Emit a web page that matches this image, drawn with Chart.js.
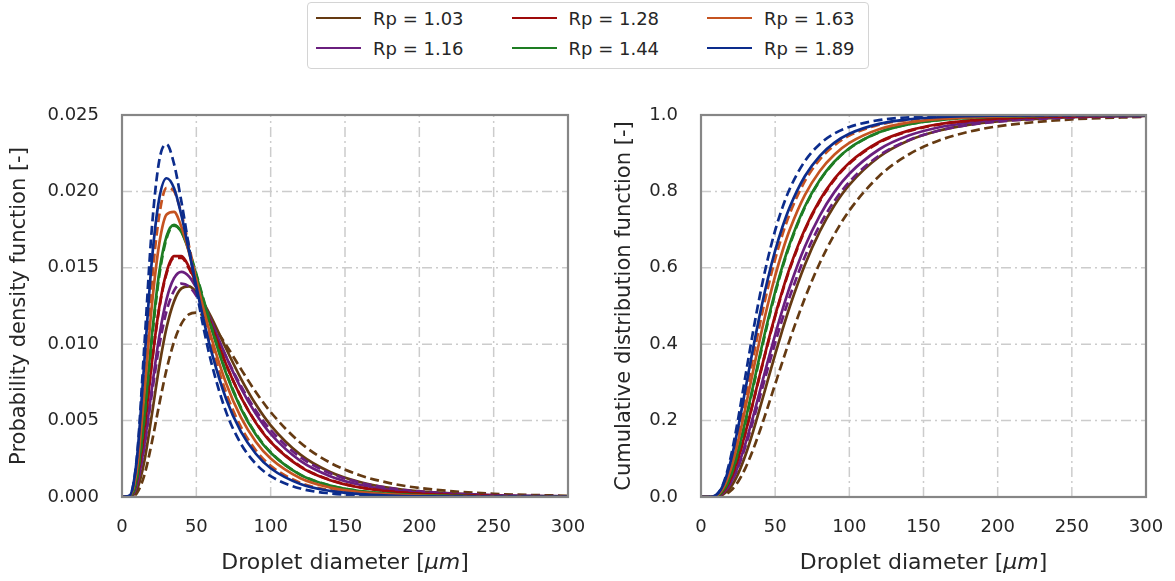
<!DOCTYPE html>
<html>
<head>
<meta charset="utf-8">
<script src="https://cdn.jsdelivr.net/npm/chart.js@4.4.0/dist/chart.umd.min.js"></script>
<style>
  html, body { margin: 0; padding: 0; background: #ffffff; }
  #wrap { position: relative; width: 1175px; height: 581px; overflow: hidden; font-family: "DejaVu Sans", sans-serif; }
  .panel { position: absolute; top: 0; height: 581px; }
  #pdfBox { left: 0; width: 590px; }
  #cdfBox { left: 590px; width: 585px; }
  #legend {
    position: absolute; left: 307px; top: 2px; width: 562px; height: 67px;
    box-sizing: border-box; border: 1px solid #d4d4d4; border-radius: 4px; background: #fff;
    display: grid; grid-template-columns: 195.5px 195.5px 160px; grid-template-rows: 30px 30px;
    grid-auto-flow: column; padding: 0 0 0 8px;
  }
  .item { display: flex; align-items: center; font-size: 18px; color: #262626; white-space: nowrap; }
  .swatch { width: 45px; height: 0; border-top: 2.7px solid; margin-right: 12px; }
</style>
</head>
<body>
<div id="wrap">
  <div class="panel" id="pdfBox"><canvas id="pdfChart" width="590" height="581"></canvas></div>
  <div class="panel" id="cdfBox"><canvas id="cdfChart" width="585" height="581"></canvas></div>
  <div id="legend"></div>
</div>
<script>
// Droplet diameter grid (µm) shared by every curve
const diameters = [0, 5, 10, 15, 20, 25, 30, 35, 40, 45, 50, 55, 60, 70, 80, 90, 100, 120, 140, 160, 180, 200, 250, 300];

const rpLabels = ['Rp = 1.03', 'Rp = 1.16', 'Rp = 1.28', 'Rp = 1.44', 'Rp = 1.63', 'Rp = 1.89'];
const rpColors = ['#653a12', '#6a1f7e', '#9e0a0a', '#1e7d23', '#c55320', '#0c2c8c'];

// Probability density, solid curves
const pdfSolid103 = [0, 0.000009, 0.000463, 0.002321, 0.005331, 0.008504, 0.01109, 0.01280, 0.01365, 0.01378, 0.01341, 0.01269, 0.011768, 0.009718, 0.007753, 0.006065, 0.004691, 0.002772, 0.001638, 0.000978, 0.000592, 0.000365, 0.000116, 0.000041];
const pdfSolid116 = [0, 0.00002, 0.00078, 0.003376, 0.007043, 0.01048, 0.01295, 0.01432, 0.01473, 0.01444, 0.01368, 0.01266, 0.01151, 0.009186, 0.007129, 0.005448, 0.004133, 0.002366, 0.001364, 0.000798, 0.000476, 0.000289, 0.00009, 0.000031];
const pdfSolid128 = [0, 0.000032, 0.001103, 0.004419, 0.008709, 0.01239, 0.01474, 0.01577, 0.01577, 0.01506, 0.01395, 0.01263, 0.01127, 0.008686, 0.006538, 0.004862, 0.003598, 0.001973, 0.001096, 0.000621, 0.00036, 0.000213, 0.000063, 0.000021];
const pdfSolid144 = [0, 0.000031, 0.001278, 0.005314, 0.01047, 0.01467, 0.01707, 0.01781, 0.01733, 0.0161, 0.0145, 0.01277, 0.01108, 0.008096, 0.005788, 0.004098, 0.002893, 0.001452, 0.000744, 0.00039, 0.00021, 0.000117, 0.00003, 0.000009];
const pdfSolid163 = [0, 0.000056, 0.001826, 0.006796, 0.01245, 0.01654, 0.01849, 0.01866, 0.01766, 0.01603, 0.01415, 0.01224, 0.01046, 0.007441, 0.005204, 0.003617, 0.002513, 0.001229, 0.000617, 0.000319, 0.00017, 0.000093, 0.000023, 0.000007];
const pdfSolid189 = [0, 0.000078, 0.002488, 0.008815, 0.01538, 0.0195, 0.02086, 0.02021, 0.01842, 0.01613, 0.01377, 0.01154, 0.009563, 0.006432, 0.004272, 0.002831, 0.001882, 0.000849, 0.000396, 0.000192, 0.000096, 0.00005, 0.000011, 0.000003];

// Probability density, dashed curves
const pdfDashed103 = [0, 0.000004, 0.000254, 0.001417, 0.003536, 0.00604, 0.008356, 0.01015, 0.01134, 0.01195, 0.01207, 0.01184, 0.01135, 0.009951, 0.008373, 0.006872, 0.005557, 0.00355, 0.002246, 0.001424, 0.000911, 0.000589, 0.000209, 0.00008];
const pdfDashed116 = [0, 0.000024, 0.000799, 0.003277, 0.00669, 0.009868, 0.01218, 0.0135, 0.01397, 0.01379, 0.01317, 0.0123, 0.01128, 0.009183, 0.007268, 0.005665, 0.004382, 0.002604, 0.001556, 0.000942, 0.00058, 0.000363, 0.000121, 0.000044];
const pdfDashed128 = [0, 0.000034, 0.001124, 0.004441, 0.008695, 0.01232, 0.01464, 0.01565, 0.01565, 0.01496, 0.01387, 0.01258, 0.01123, 0.008683, 0.006556, 0.004891, 0.003631, 0.002004, 0.00112, 0.000639, 0.000372, 0.000221, 0.000066, 0.000022];
const pdfDashed144 = [0, 0.000028, 0.001189, 0.00509, 0.0102, 0.01444, 0.01693, 0.01776, 0.01735, 0.01617, 0.01459, 0.01288, 0.01118, 0.008185, 0.005855, 0.004145, 0.002925, 0.001465, 0.000749, 0.000392, 0.000211, 0.000116, 0.000029, 0.000008];
const pdfDashed163 = [0, 0.000052, 0.001971, 0.007606, 0.01399, 0.0184, 0.02023, 0.02001, 0.01854, 0.01646, 0.0142, 0.01202, 0.01004, 0.006839, 0.004586, 0.003061, 0.002046, 0.00093, 0.000436, 0.000212, 0.000106, 0.000055, 0.000012, 0.000003];
const pdfDashed189 = [0, 0.000063, 0.002587, 0.009859, 0.01748, 0.02199, 0.02308, 0.0218, 0.0193, 0.01639, 0.01355, 0.011, 0.00883, 0.005574, 0.003481, 0.002173, 0.001364, 0.000552, 0.000233, 0.000103, 0.000047, 0.000023, 0.000004, 0.000001];

// Cumulative distribution, solid curves
const cdfSolid103 = [0, 0.00001, 0.00076, 0.0071, 0.0259, 0.0607, 0.1099, 0.17, 0.2365, 0.3054, 0.3735, 0.4388, 0.5, 0.6075, 0.6947, 0.7636, 0.8171, 0.8901, 0.9332, 0.9587, 0.9741, 0.9834, 0.9942, 0.9978];
const cdfSolid116 = [0, 0.00001, 0.00136, 0.011, 0.0369, 0.0811, 0.1401, 0.2087, 0.2817, 0.3549, 0.4252, 0.4911, 0.5516, 0.655, 0.7362, 0.7988, 0.8463, 0.9097, 0.9461, 0.9672, 0.9797, 0.9872, 0.9956, 0.9984];
const cdfSolid128 = [0, 0.00002, 0.002, 0.015, 0.0478, 0.101, 0.1694, 0.2461, 0.3254, 0.4027, 0.4753, 0.5418, 0.6015, 0.701, 0.7767, 0.8333, 0.8753, 0.9294, 0.9592, 0.9759, 0.9854, 0.991, 0.9971, 0.999];
const cdfSolid144 = [0, 0.00002, 0.0022, 0.0177, 0.0572, 0.1208, 0.2009, 0.2887, 0.377, 0.4608, 0.5373, 0.6055, 0.6651, 0.7604, 0.8292, 0.8782, 0.9129, 0.9546, 0.9757, 0.9867, 0.9925, 0.9956, 0.9988, 0.9996];
const cdfSolid163 = [0, 0.00004, 0.0033, 0.0239, 0.0724, 0.1457, 0.2342, 0.3276, 0.4188, 0.5032, 0.5787, 0.6446, 0.7013, 0.7902, 0.8528, 0.8964, 0.9268, 0.9626, 0.9803, 0.9893, 0.994, 0.9966, 0.9991, 0.9997];
const cdfSolid189 = [0, 0.00005, 0.0046, 0.0319, 0.0931, 0.1815, 0.2834, 0.3867, 0.4836, 0.5701, 0.6448, 0.708, 0.7606, 0.8397, 0.8925, 0.9276, 0.9508, 0.9767, 0.9885, 0.9942, 0.9969, 0.9983, 0.9996, 0.9999];

// Cumulative distribution, dashed curves
const cdfDashed103 = [0, 0, 0.0004, 0.0041, 0.0162, 0.0401, 0.0763, 0.1228, 0.1768, 0.2352, 0.2954, 0.3553, 0.4134, 0.5202, 0.6118, 0.6879, 0.7499, 0.8397, 0.8966, 0.9327, 0.9556, 0.9704, 0.9886, 0.9953];
const cdfDashed116 = [0, 0.00002, 0.0014, 0.011, 0.0358, 0.0775, 0.133, 0.1976, 0.2666, 0.3362, 0.4037, 0.4675, 0.5264, 0.6288, 0.7109, 0.7752, 0.8251, 0.8935, 0.9341, 0.9586, 0.9735, 0.9827, 0.9937, 0.9975];
const cdfDashed128 = [0, 0.00002, 0.002, 0.0152, 0.048, 0.101, 0.169, 0.2452, 0.3238, 0.4006, 0.4728, 0.5389, 0.5984, 0.6977, 0.7735, 0.8304, 0.8727, 0.9275, 0.9578, 0.9749, 0.9847, 0.9905, 0.9969, 0.9989];
const cdfDashed144 = [0, 0.00002, 0.002, 0.0167, 0.0549, 0.1172, 0.1963, 0.2837, 0.3718, 0.456, 0.5329, 0.6016, 0.6617, 0.758, 0.8277, 0.8772, 0.9122, 0.9544, 0.9757, 0.9867, 0.9925, 0.9957, 0.9988, 0.9996];
const cdfDashed163 = [0, 0.00003, 0.0035, 0.0263, 0.0807, 0.1628, 0.2604, 0.3616, 0.4584, 0.5461, 0.6227, 0.6882, 0.7432, 0.8268, 0.8832, 0.9209, 0.9461, 0.9744, 0.9874, 0.9936, 0.9966, 0.9982, 0.9996, 0.9999];
const cdfDashed189 = [0, 0.00004, 0.0046, 0.0344, 0.1035, 0.2038, 0.3177, 0.4305, 0.5337, 0.6229, 0.6977, 0.7589, 0.8083, 0.8792, 0.9237, 0.9515, 0.9688, 0.9867, 0.9941, 0.9973, 0.9987, 0.9993, 0.9999, 1.0];

const pdfSolid = [pdfSolid103, pdfSolid116, pdfSolid128, pdfSolid144, pdfSolid163, pdfSolid189];
const pdfDashed = [pdfDashed103, pdfDashed116, pdfDashed128, pdfDashed144, pdfDashed163, pdfDashed189];
const cdfSolid = [cdfSolid103, cdfSolid116, cdfSolid128, cdfSolid144, cdfSolid163, cdfSolid189];
const cdfDashed = [cdfDashed103, cdfDashed116, cdfDashed128, cdfDashed144, cdfDashed163, cdfDashed189];

const xTickStep = 50;
const xTitleParts = [['Droplet diameter [', 'normal'], ['μm', 'italic'], [']', 'normal']];

const FONT = '"DejaVu Sans", sans-serif';
const TEXT = '#262626';
const LINE_WIDTH = 2.7;

// Legend (column-major, three columns)
const legendEl = document.getElementById('legend');
rpLabels.forEach((lab, i) => {
  const item = document.createElement('div');
  item.className = 'item';
  const sw = document.createElement('span');
  sw.className = 'swatch';
  sw.style.borderTopColor = rpColors[i];
  item.appendChild(sw);
  item.appendChild(document.createTextNode(lab));
  legendEl.appendChild(item);
});

// Dash-dot grid under the data, gray frame over it, and the x-axis title
const framePlugin = {
  id: 'frameGrid',
  beforeDatasetsDraw(chart) {
    const { ctx, chartArea: a, scales } = chart;
    ctx.save();
    ctx.strokeStyle = '#cccccc';
    ctx.lineWidth = 1.5;
    ctx.setLineDash([10, 4, 2, 4]);
    scales.x.ticks.forEach(t => {
      const px = scales.x.getPixelForValue(t.value);
      ctx.beginPath(); ctx.moveTo(px, a.bottom); ctx.lineTo(px, a.top); ctx.stroke();
    });
    scales.y.ticks.forEach(t => {
      const py = scales.y.getPixelForValue(t.value);
      ctx.beginPath(); ctx.moveTo(a.left, py); ctx.lineTo(a.right, py); ctx.stroke();
    });
    ctx.restore();
  },
  afterDatasetsDraw(chart) {
    const { ctx, chartArea: a } = chart;
    ctx.save();
    ctx.strokeStyle = '#868686';
    ctx.lineWidth = 2.2;
    ctx.setLineDash([]);
    ctx.strokeRect(a.left, a.top, a.right - a.left, a.bottom - a.top);
    ctx.restore();
  },
  afterDraw(chart) {
    const { ctx, chartArea: a } = chart;
    ctx.save();
    ctx.fillStyle = TEXT;
    ctx.textBaseline = 'alphabetic';
    ctx.textAlign = 'left';
    const widths = xTitleParts.map(([t, s]) => {
      ctx.font = `${s} 22px ${FONT}`;
      return ctx.measureText(t).width;
    });
    const total = widths.reduce((p, c) => p + c, 0);
    let x = (a.left + a.right) / 2 - total / 2;
    xTitleParts.forEach(([t, s], i) => {
      ctx.font = `${s} 22px ${FONT}`;
      ctx.fillText(t, x, 569);
      x += widths[i];
    });
    ctx.restore();
  }
};

function buildDatasets(solid, dashed) {
  const sets = [];
  for (let i = 0; i < rpLabels.length; i++) {
    sets.push({
      label: rpLabels[i],
      data: diameters.map((d, k) => ({ x: d, y: solid[i][k] })),
      borderColor: rpColors[i], borderWidth: LINE_WIDTH, borderDash: [],
    });
    sets.push({
      label: rpLabels[i] + ' (dashed)',
      data: diameters.map((d, k) => ({ x: d, y: dashed[i][k] })),
      borderColor: rpColors[i], borderWidth: LINE_WIDTH, borderDash: [9, 4.5],
    });
  }
  sets.forEach((s, idx) => {
    s.order = sets.length - idx;
    s.pointRadius = 0;
    s.fill = false;
    s.cubicInterpolationMode = 'monotone';
  });
  return sets;
}

function makePanel(id, solid, dashed, yMax, yStep, decimals, yTitle, titlePad, axisWidth, rightPad) {
  return new Chart(document.getElementById(id), {
    type: 'line',
    data: { datasets: buildDatasets(solid, dashed) },
    options: {
      responsive: false,
      animation: false,
      layout: { padding: { top: 115, right: rightPad, bottom: 0, left: 0 } },
      plugins: { legend: { display: false }, tooltip: { enabled: false } },
      scales: {
        x: {
          type: 'linear', min: 0, max: 300,
          grid: { display: false, drawTicks: false },
          border: { display: false },
          ticks: { stepSize: xTickStep, padding: 20, color: TEXT, font: { family: FONT, size: 18 }, maxRotation: 0 },
          afterFit(scale) { scale.height = 84; scale.paddingLeft = 0; scale.paddingRight = 0; }
        },
        y: {
          type: 'linear', min: 0, max: yMax,
          grid: { display: false, drawTicks: false },
          border: { display: false },
          ticks: { stepSize: yStep, padding: 23, color: TEXT, font: { family: FONT, size: 18 },
                   callback: v => Number(v).toFixed(decimals) },
          title: { display: true, text: yTitle, color: TEXT, font: { family: FONT, size: 21 },
                   padding: { top: titlePad, bottom: 0 } },
          afterFit(scale) { scale.width = axisWidth; scale.paddingTop = 0; scale.paddingBottom = 0; }
        }
      }
    },
    plugins: [framePlugin]
  });
}

makePanel('pdfChart', pdfSolid, pdfDashed, 0.025, 0.005, 3, 'Probability density function [-]', 7, 122, 22);
makePanel('cdfChart', cdfSolid, cdfDashed, 1.0, 0.2, 1, 'Cumulative distribution function [-]', 22, 111, 29);
</script>
</body>
</html>
